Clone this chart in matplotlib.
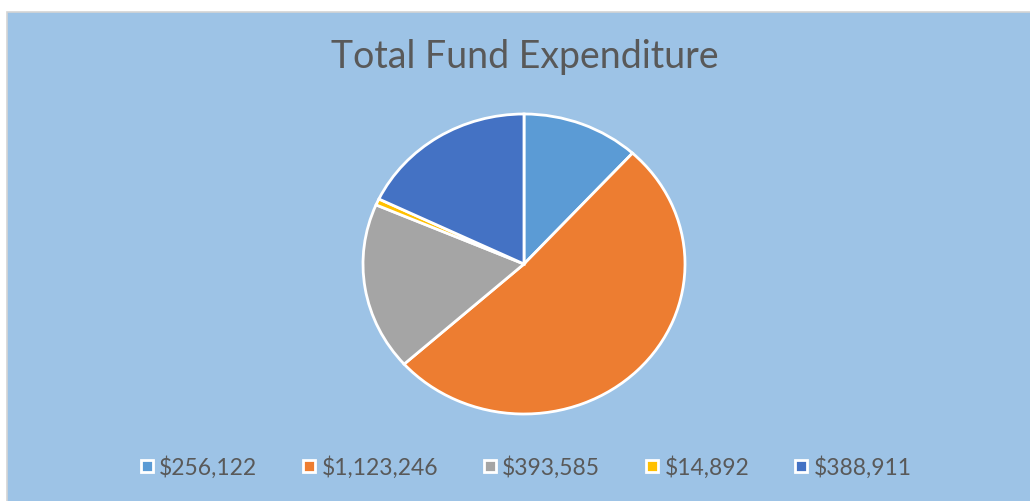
import matplotlib.pyplot as plt
from matplotlib.lines import Line2D
from matplotlib.patches import Rectangle

# Данные диаграммы
labels = ['$256,122', '$1,123,246', '$393,585', '$14,892', '$388,911']
values = [256122, 1123246, 393585, 14892, 388911]
colors = ['#5B9BD5', '#ED7D31', '#A5A5A5', '#FFC000', '#4472C4']
title = 'Total Fund Expenditure'

W, H = 1030, 502
fig = plt.figure(figsize=(W / 100, H / 100), dpi=100)
fig.patch.set_facecolor('white')

# Фон области диаграммы
bg = Rectangle((7 / W, -0.01), 1.02, 1 - 13 / H + 0.01, transform=fig.transFigure,
               facecolor='#9DC3E6', edgecolor='#D4D4D4', linewidth=1.2, zorder=-10)
fig.patches.append(bg)

# Пирог (немного растянут по горизонтали, как в оригинале)
ax = fig.add_axes([363 / W, (H - 415) / H, 322 / W, 300 / H])
ax.set_zorder(5)
wedges, _ = ax.pie(values, colors=colors, startangle=90, counterclock=False,
                   wedgeprops=dict(edgecolor='white', linewidth=2))
for w in wedges:
    w.set_clip_on(False)
ax.set_aspect('auto')
ax.set_xlim(-1, 1)
ax.set_ylim(-1, 1)
ax.axis('off')

fig.text(524.5 / W, 1 - 57 / H, title, ha='center', va='center',
         fontsize=27, color='#595959', family='Lato')

# Легенда
handles = [Line2D([], [], linestyle='none', marker='s', markersize=9,
                  markerfacecolor=c, markeredgecolor='white', markeredgewidth=2)
           for c in colors]
fig.legend(handles, labels, loc='center', bbox_to_anchor=(525 / W, 1 - 468 / H),
           ncol=5, frameon=False, handlelength=0.7, handletextpad=0.2,
           columnspacing=1.9, prop={'family': 'Lato', 'size': 16.5}, labelcolor='#595959')

fig.savefig('out.png', dpi=100)
